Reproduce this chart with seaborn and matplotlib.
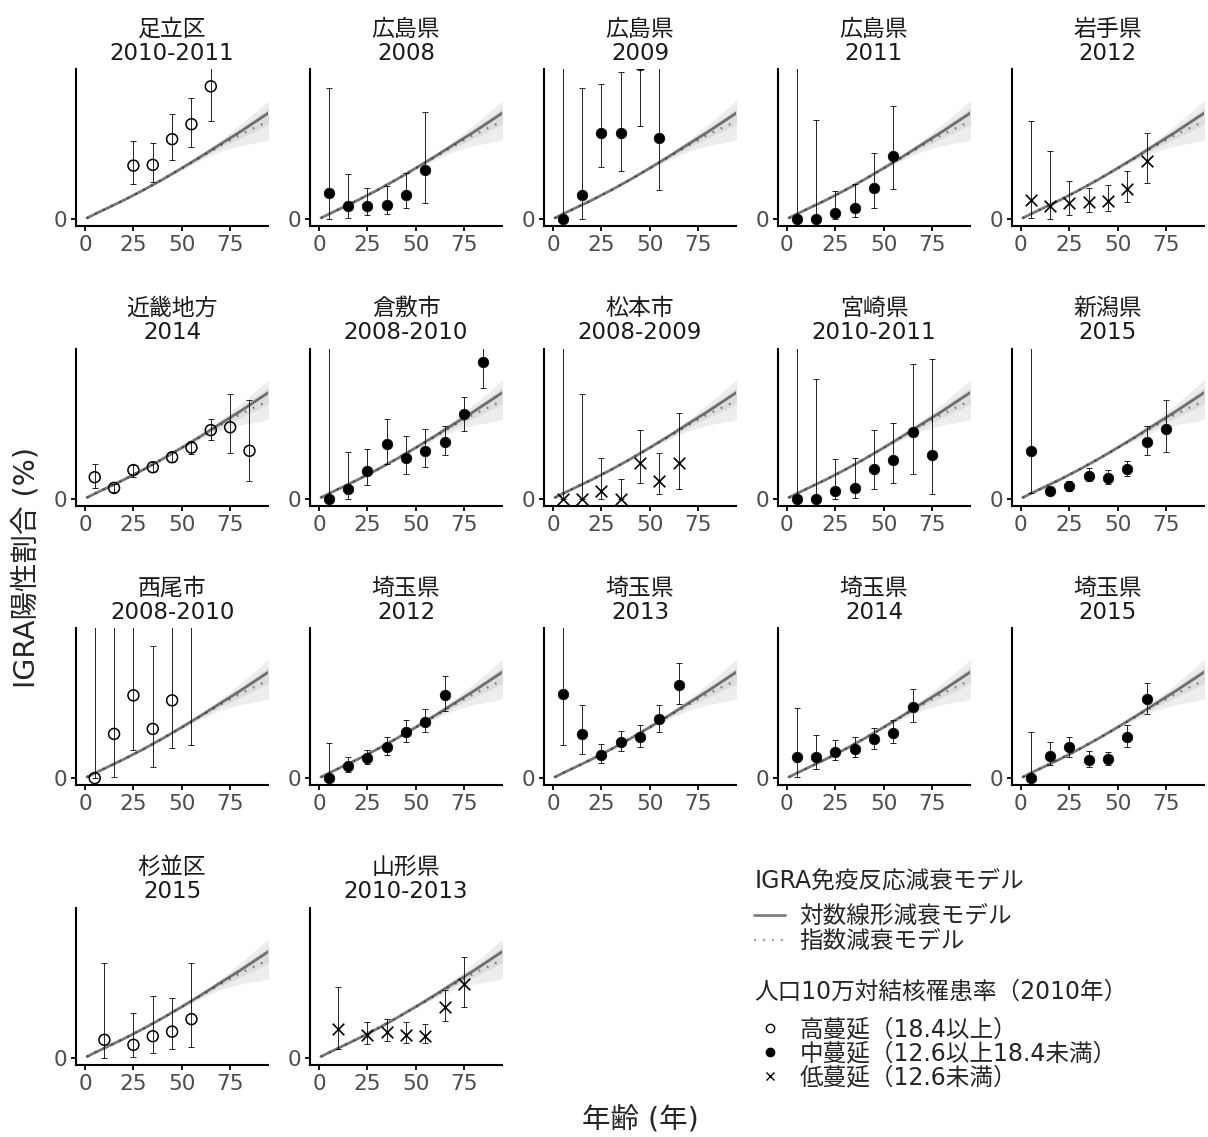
import numpy as np
import pandas as pd
import seaborn as sns
import matplotlib.pyplot as plt
from matplotlib.lines import Line2D

# panel data (IGRA positive proportion by age group, %)
panel_names = ['足立区', '広島県', '広島県', '広島県', '岩手県',
               '近畿地方', '倉敷市', '松本市', '宮崎県', '新潟県',
               '西尾市', '埼玉県', '埼玉県', '埼玉県', '埼玉県',
               '杉並区', '山形県']
panel_years = ['2010-2011', '2008', '2009', '2011', '2012',
               '2014', '2008-2010', '2008-2009', '2010-2011', '2015',
               '2008-2010', '2012', '2013', '2014', '2015',
               '2015', '2010-2013']
panel_groups = ['high', 'mid', 'mid', 'mid', 'low',
                'high', 'mid', 'low', 'mid', 'mid',
                'high', 'mid', 'mid', 'mid', 'mid',
                'high', 'low']

ages = [
    [25, 35, 45, 55, 65],
    [5, 15, 25, 35, 45, 55],
    [5, 15, 25, 35, 45, 55],
    [5, 15, 25, 35, 45, 55],
    [5, 15, 25, 35, 45, 55, 65],
    [5, 15, 25, 35, 45, 55, 65, 75, 85],
    [5, 15, 25, 35, 45, 55, 65, 75, 85],
    [5, 15, 25, 35, 45, 55, 65],
    [5, 15, 25, 35, 45, 55, 65, 75],
    [5, 15, 25, 35, 45, 55, 65, 75],
    [5, 15, 25, 35, 45, 55],
    [5, 15, 25, 35, 45, 55, 65],
    [5, 15, 25, 35, 45, 55, 65],
    [5, 15, 25, 35, 45, 55, 65],
    [5, 15, 25, 35, 45, 55, 65],
    [10, 25, 35, 45, 55],
    [10, 25, 35, 45, 55, 65, 75],
]
rates = [
    [7.5, 7.6, 11.2, 13.3, 18.6],
    [3.7, 1.8, 1.9, 2.0, 3.4, 6.9],
    [0.0, 3.4, 12.1, 12.1, 21.6, 11.4],
    [0.0, 0.0, 0.8, 1.6, 4.4, 8.9],
    [2.7, 1.9, 2.2, 2.4, 2.6, 4.25, 8.2],
    [3.0, 1.5, 4.0, 4.4, 5.8, 7.15, 9.6, 10.0, 6.7],
    [0.0, 1.3, 3.9, 7.6, 5.7, 6.7, 7.9, 11.8, 19.15],
    [0.0, 0.0, 1.1, 0.0, 5.0, 2.4, 5.0],
    [0.0, 0.0, 1.0, 1.5, 4.2, 5.4, 9.4, 6.1],
    [6.7, 1.0, 1.7, 3.1, 2.9, 4.1, 8.0, 9.7],
    [0.0, 6.2, 11.6, 6.9, 10.9, 23.5],
    [0.0, 1.7, 2.8, 4.3, 6.5, 7.9, 11.7],
    [11.8, 6.2, 3.3, 5.1, 5.7, 8.3, 13.1],
    [2.9, 3.0, 3.7, 4.1, 5.5, 6.3, 10.0],
    [0.0, 3.1, 4.3, 2.6, 2.7, 5.7, 11.1],
    [2.5, 1.8, 3.0, 3.65, 5.4],
    [4.0, 3.2, 3.65, 3.2, 3.1, 7.1, 10.3],
]
ci_low = [
    [4.9, 5.2, 8.3, 10.1, 13.8],
    [0.0, 0.2, 0.6, 0.7, 1.5, 2.3],
    [0.0, 0.0, 7.3, 6.8, 13.1, 4.1],
    [0.0, 0.0, 0.0, 0.3, 1.6, 4.2],
    [0.1, 0.0, 0.6, 1.0, 1.2, 2.4, 5.1],
    [1.5, 0.9, 3.0, 3.8, 5.1, 6.3, 8.2, 6.45, 2.5],
    [0.0, 0.0, 1.9, 4.8, 3.4, 4.4, 6.1, 9.5, 15.55],
    [0.0, 0.0, 0.0, 0.0, 2.2, 0.6, 1.3],
    [0.0, 0.0, 0.0, 0.1, 1.4, 2.2, 3.5, 0.7],
    [0.8, 0.5, 1.1, 2.4, 2.0, 3.1, 6.1, 6.5],
    [0.0, 0.1, 3.9, 1.5, 4.2, 4.6],
    [0.0, 0.9, 2.0, 3.3, 5.1, 6.45, 9.4],
    [4.6, 3.4, 2.1, 3.8, 4.4, 6.5, 10.4],
    [0.2, 1.3, 2.6, 3.0, 4.1, 4.9, 7.8],
    [0.0, 1.8, 3.0, 1.6, 1.8, 4.3, 9.0],
    [0.0, 0.1, 0.6, 1.2, 1.45],
    [1.2, 1.9, 2.3, 2.0, 2.0, 5.1, 7.15],
]
ci_high = [
    [10.9, 10.6, 14.7, 16.9, 24.0],
    [18.4, 6.3, 4.3, 4.6, 6.5, 15.0],
    [30.0, 18.4, 19.0, 20.6, 26.0, 28.0],
    [30.0, 13.9, 4.0, 4.9, 9.2, 15.9],
    [13.7, 9.6, 5.3, 4.4, 4.8, 6.7, 12.0],
    [4.9, 2.1, 4.7, 5.2, 6.6, 8.1, 11.2, 14.6, 13.8],
    [30.0, 6.5, 7.0, 11.1, 8.8, 9.7, 10.2, 14.25, 24.0],
    [30.0, 14.6, 5.7, 2.7, 9.6, 6.45, 12.05],
    [30.0, 16.7, 5.5, 5.7, 9.6, 10.65, 18.8, 19.6],
    [30.0, 1.6, 2.4, 4.3, 4.0, 5.3, 10.2, 13.8],
    [30.0, 30.0, 30.0, 18.45, 30.0, 30.0],
    [4.9, 3.0, 3.9, 5.7, 8.2, 9.7, 14.25],
    [30.0, 10.2, 4.8, 6.6, 7.4, 10.2, 16.1],
    [9.8, 6.0, 5.4, 5.7, 7.0, 8.1, 12.5],
    [6.5, 5.1, 5.8, 3.8, 3.7, 7.4, 13.3],
    [13.2, 6.2, 8.7, 8.3, 13.2],
    [9.95, 5.05, 5.4, 5.05, 4.7, 9.5, 14.1],
]

# pooled model predictions (same curve in every panel)
model_age = [1, 5, 10, 20, 30, 40, 50, 60, 70, 80, 90, 95]
loglin_fit = [0.15, 0.7, 1.35, 2.65, 4.05, 5.55, 7.15, 8.8, 10.5, 12.2, 14.0, 14.9]
loglin_lo = [0.1, 0.6, 1.25, 2.55, 3.95, 5.45, 7.0, 8.5, 10.0, 11.3, 12.6, 13.3]
loglin_hi = [0.2, 0.8, 1.45, 2.75, 4.15, 5.65, 7.3, 9.1, 11.1, 13.2, 15.5, 16.7]
exp_fit = [0.15, 0.7, 1.35, 2.65, 4.05, 5.55, 7.1, 8.7, 10.3, 11.8, 13.1, 13.7]
exp_lo = [0.1, 0.6, 1.25, 2.55, 3.95, 5.4, 6.9, 8.3, 9.5, 10.3, 10.8, 11.1]
exp_hi = [0.2, 0.8, 1.45, 2.75, 4.15, 5.65, 7.25, 9.0, 10.9, 12.7, 14.6, 15.6]

group_labels = {'high': '高蔓延（18.4以上）',
                'mid': '中蔓延（12.6以上18.4未満）',
                'low': '低蔓延（12.6未満）'}

sns.set_theme(style='ticks')
plt.rcParams['font.family'] = ['DejaVu Sans', 'Noto Sans CJK JP']

W, H = 1208, 1137
fig, axes = plt.subplots(4, 5, figsize=(W / 100, H / 100), dpi=100)
fig.subplots_adjust(left=0.0632, right=0.9964, top=0.9391, bottom=0.0635,
                    wspace=0.2215, hspace=0.7806)
axes = axes.flatten()

df_model = pd.DataFrame({'age': model_age, 'loglin': loglin_fit, 'exp': exp_fit})


def draw_points(ax, x, y, group):
    if group == 'high':
        sns.scatterplot(x=x, y=y, ax=ax, marker='o', s=62, fc='none',
                        ec='black', linewidth=1.1, zorder=5, legend=False)
    elif group == 'mid':
        sns.scatterplot(x=x, y=y, ax=ax, marker='o', s=58, color='black',
                        edgecolor='black', linewidth=0.5, zorder=5, legend=False)
    else:
        sns.scatterplot(x=x, y=y, ax=ax, marker='x', s=70, color='black',
                        linewidth=1.2, zorder=5, legend=False)


for i, ax in enumerate(axes):
    if i >= len(panel_names):
        ax.remove()
        continue
    x = np.array(ages[i], dtype=float)
    y = np.array(rates[i])
    lo = np.array(ci_low[i])
    hi = np.array(ci_high[i])

    ax.fill_between(model_age, loglin_lo, loglin_hi, color='gray', alpha=0.14,
                    lw=0, zorder=1)
    ax.fill_between(model_age, exp_lo, exp_hi, color='gray', alpha=0.14,
                    lw=0, zorder=1)
    sns.lineplot(data=df_model, x='age', y='loglin', ax=ax, color='black',
                 alpha=0.5, lw=2.0, zorder=2)
    sns.lineplot(data=df_model, x='age', y='exp', ax=ax, color='black',
                 alpha=0.4, lw=1.7, zorder=3).lines[-1].set_dashes([0.8, 3.0])

    ax.errorbar(x, y, yerr=[y - lo, hi - y], fmt='none', ecolor='black',
                elinewidth=0.6, capsize=2.3, capthick=0.6, zorder=4)
    draw_points(ax, x, y, panel_groups[i])

    ax.set_xlim(-4.5, 94.5)
    ax.set_ylim(-1, 21)
    ax.set_xticks([0, 25, 50, 75])
    ax.set_yticks([0])
    ax.set_xlabel('')
    ax.set_ylabel('')
    ax.set_title(f'{panel_names[i]}\n{panel_years[i]}', fontsize=16.5,
                 color='#1a1a1a', pad=7, linespacing=1.05)
    for side in ['top', 'right']:
        ax.spines[side].set_visible(False)
    for side in ['left', 'bottom']:
        ax.spines[side].set_linewidth(1.5)
        ax.spines[side].set_color('black')
    ax.tick_params(axis='both', length=3.5, width=1.3, color='black',
                   labelsize=15.5, labelcolor='#4d4d4d', pad=3)

fig.text(27 / W, 0.5012, 'IGRA陽性割合 (%)', rotation=90, ha='center',
         va='center', fontsize=20.5)
fig.text(640 / W, 1 - 1120 / H, '年齢 (年)', ha='center', va='center',
         fontsize=20.5)

# legends
line_handles = [Line2D([], [], color='black', alpha=0.5, lw=2.0),
                Line2D([], [], color='black', alpha=0.4, lw=1.7, dashes=[0.8, 3.0])]
leg1 = fig.legend(line_handles, ['対数線形減衰モデル', '指数減衰モデル'],
                  title='IGRA免疫反応減衰モデル', loc='upper left',
                  bbox_to_anchor=(745 / W, 1 - 860 / H), frameon=False,
                  fontsize=17, title_fontsize=17, handlelength=1.3,
                  handletextpad=0.6, labelspacing=0.05, borderaxespad=0)
leg1._legend_box.align = 'left'
leg1._legend_box.sep = 8

shape_handles = [
    Line2D([], [], ls='none', marker='o', ms=6, mfc='none', mec='black', mew=1.0),
    Line2D([], [], ls='none', marker='o', ms=6, mfc='black', mec='black'),
    Line2D([], [], ls='none', marker='x', ms=6, mec='black', mew=1.0),
]
leg2 = fig.legend(shape_handles, [group_labels[k] for k in ['high', 'mid', 'low']],
                  title='人口10万対結核罹患率（2010年）', loc='upper left',
                  bbox_to_anchor=(745 / W, 1 - 970 / H), frameon=False,
                  fontsize=17, title_fontsize=17, handlelength=1.3,
                  handletextpad=0.6, labelspacing=0.0, borderaxespad=0)
leg2._legend_box.align = 'left'
leg2._legend_box.sep = 10

plt.savefig('out.png', dpi=100)
